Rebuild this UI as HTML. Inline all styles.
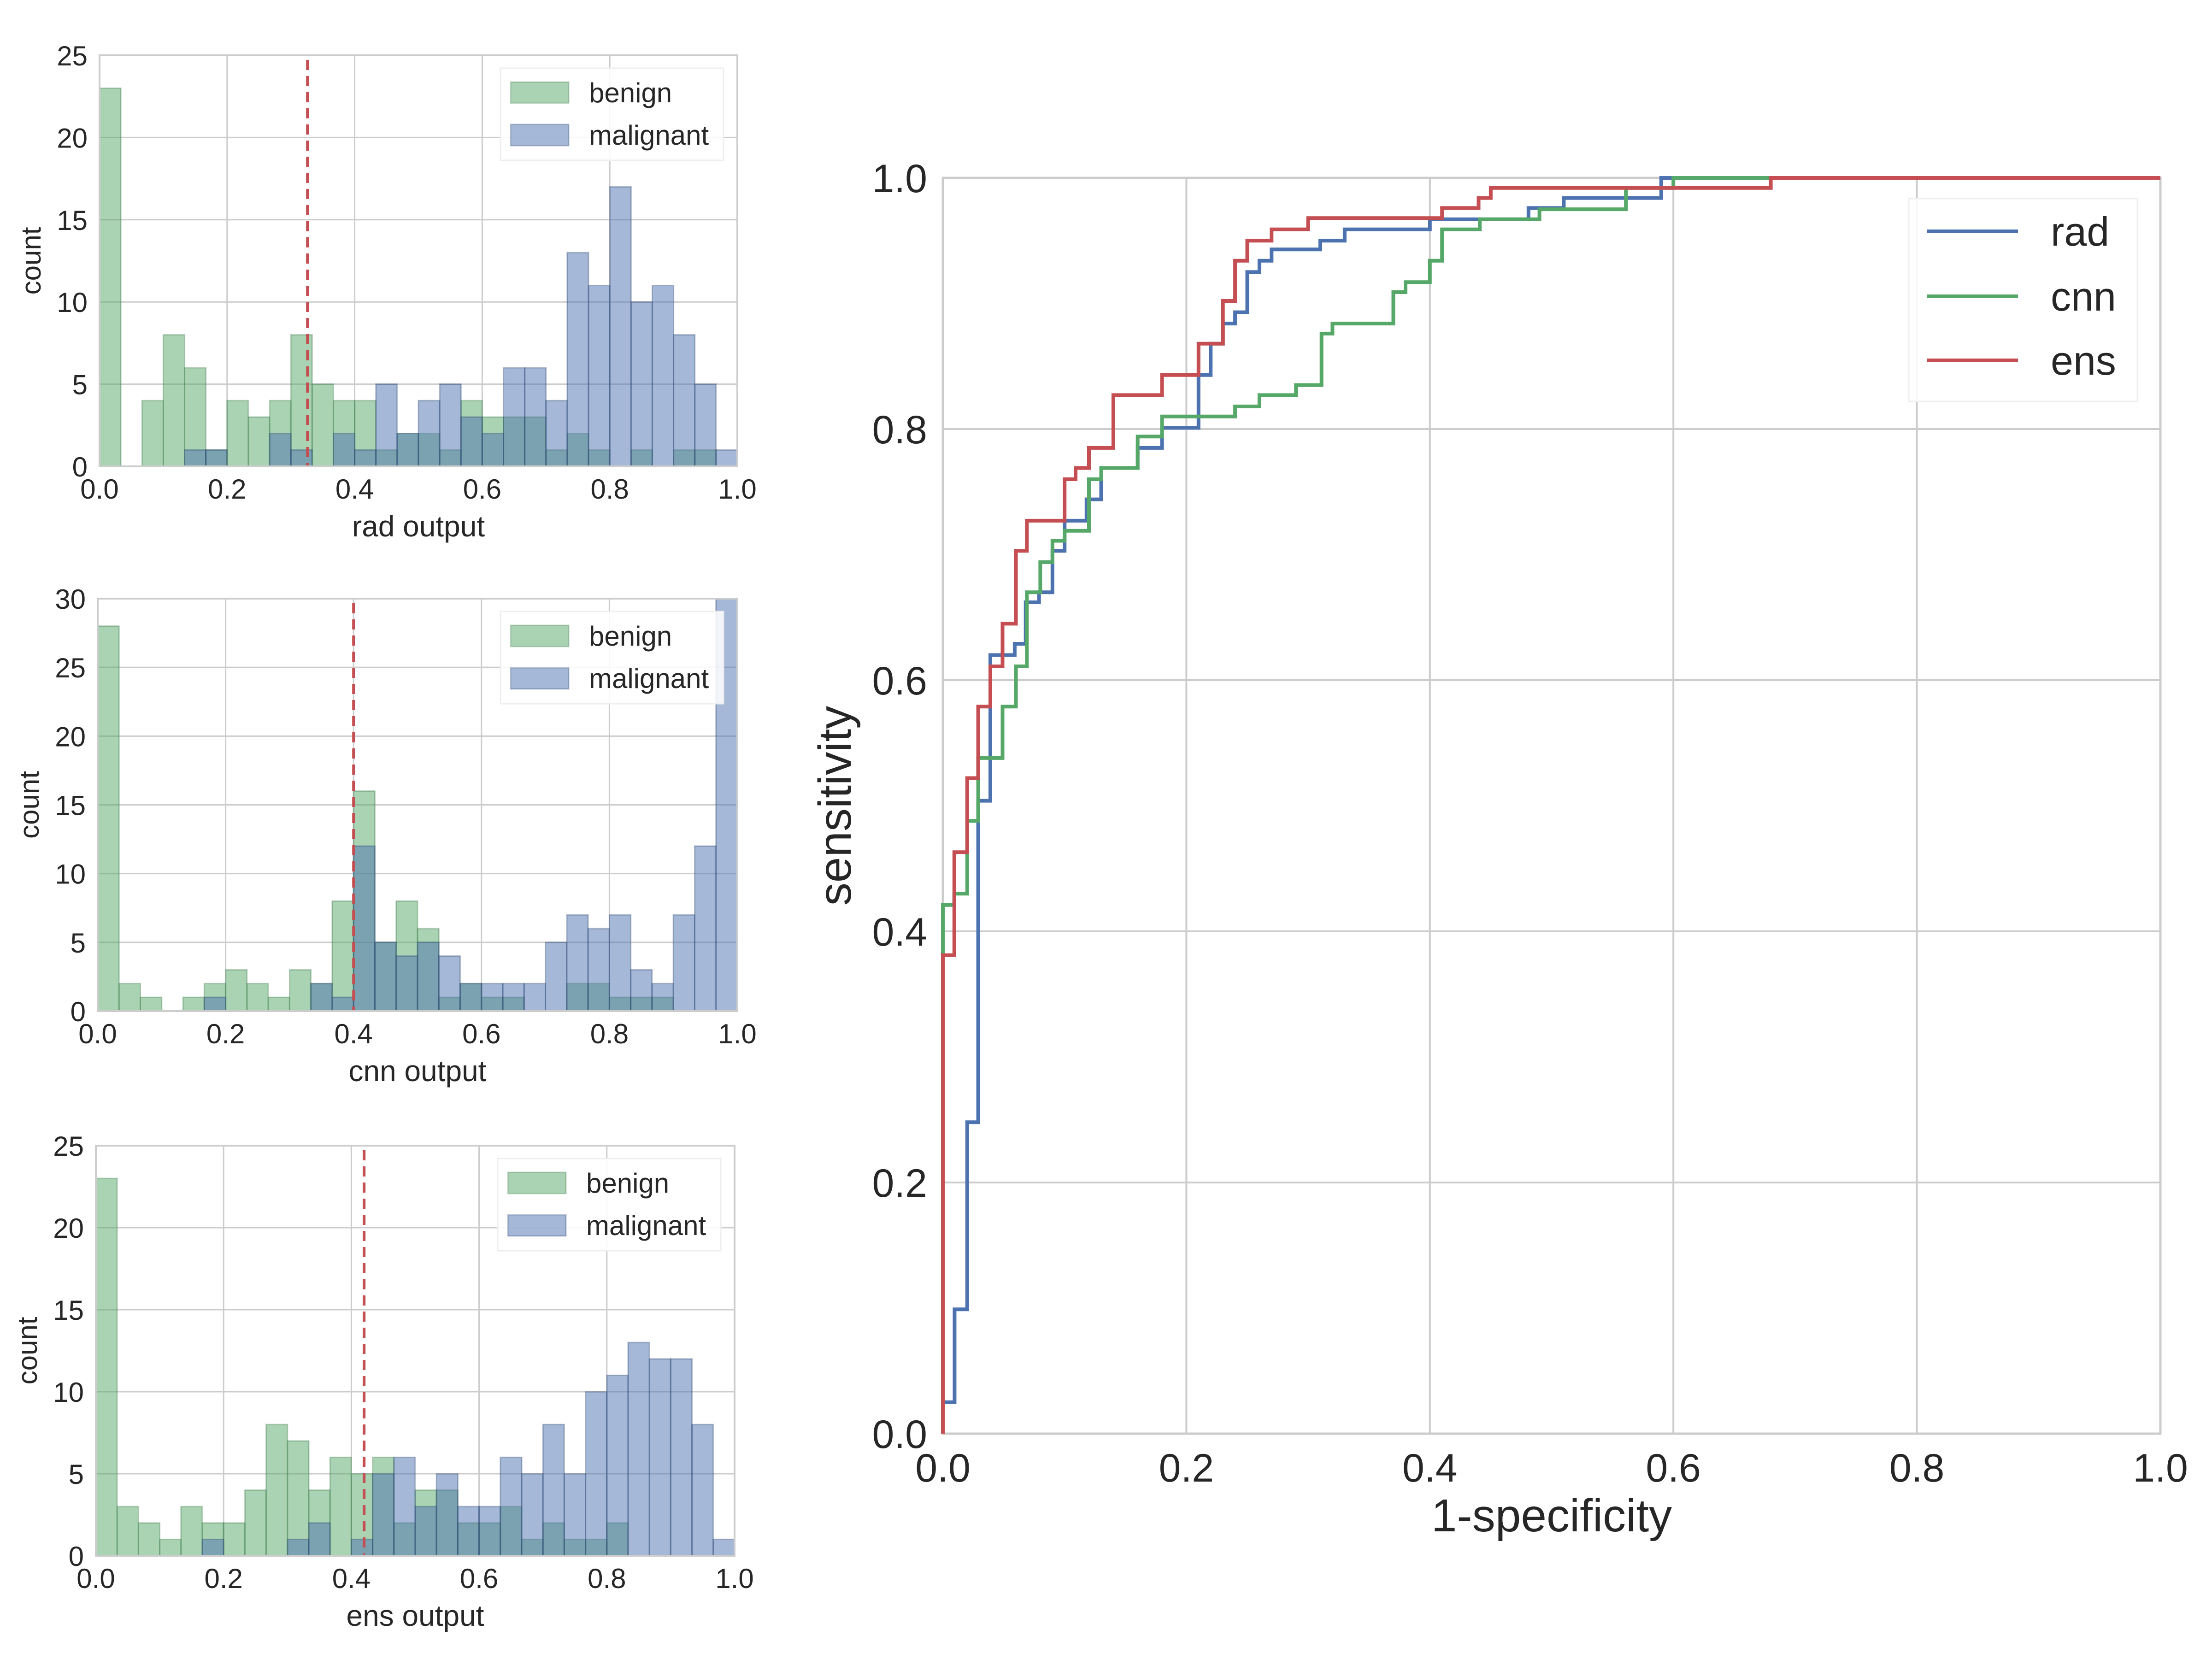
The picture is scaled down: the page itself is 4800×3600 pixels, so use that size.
<!DOCTYPE html>
<html><head><meta charset="utf-8"><style>
html,body{margin:0;padding:0;background:#fff}
svg{display:block}
text{font-family:"Liberation Sans",sans-serif;fill:#262626}
</style></head><body>
<svg id="fig" width="4800" height="3600" viewBox="0 0 4800 3600" xmlns="http://www.w3.org/2000/svg"></svg>
<script>
// ---------- histogram data (30 bins over [0,1]) ----------
const radBenign    = [23,0,4,8,6,1,4,3,4,8,5,4,4,1,2,2,1,4,3,3,3,1,2,1,0,1,0,1,1,0];
const radMalignant = [0,0,0,0,1,1,0,0,2,1,0,2,1,5,2,4,5,3,2,6,6,4,13,11,17,10,11,8,5,1];
const radThreshold = 0.326;
const cnnBenign    = [28,2,1,0,1,2,3,2,1,3,2,8,16,5,8,6,1,2,1,1,0,0,2,2,1,1,1,0,0,0];
const cnnMalignant = [0,0,0,0,0,1,0,0,0,0,2,1,12,5,4,5,4,2,2,2,2,5,7,6,7,3,2,7,12,30];
const cnnThreshold = 0.40;
const ensBenign    = [23,3,2,1,3,2,2,4,8,7,4,6,5,6,2,4,4,2,2,3,1,2,1,1,2,0,0,0,0,0];
const ensMalignant = [0,0,0,0,0,1,0,0,0,1,2,0,1,5,6,3,5,3,3,6,5,8,5,10,11,13,12,12,8,1];
const ensThreshold = 0.42;
const radYTicks = [0,5,10,15,20,25];
const cnnYTicks = [0,5,10,15,20,25,30];
const ensYTicks = [0,5,10,15,20,25];
const histXTicks = ["0.0","0.2","0.4","0.6","0.8","1.0"];

// ---------- ROC data (step points: x = 1-specificity, y = sensitivity) ----------
const radFpr = [0,0,0.0096,0.0096,0.020,0.020,0.029,0.029,0.039,0.039,0.059,0.059,0.068,0.068,0.079,0.079,0.090,0.090,0.100,0.100,0.118,0.118,0.130,0.130,0.160,0.160,0.180,0.180,0.210,0.210,0.220,0.220,0.230,0.230,0.240,0.240,0.250,0.250,0.260,0.260,0.270,0.270,0.310,0.310,0.330,0.330,0.400,0.400,0.481,0.481,0.510,0.510,0.590,0.590,1.0];
const radTpr = [0,0.025,0.025,0.099,0.099,0.248,0.248,0.504,0.504,0.620,0.620,0.629,0.629,0.662,0.662,0.670,0.670,0.703,0.703,0.727,0.727,0.744,0.744,0.769,0.769,0.785,0.785,0.801,0.801,0.843,0.843,0.868,0.868,0.884,0.884,0.893,0.893,0.925,0.925,0.934,0.934,0.943,0.943,0.950,0.950,0.959,0.959,0.967,0.967,0.976,0.976,0.984,0.984,1.0,1.0];
const cnnFpr = [0,0,0.0094,0.0094,0.020,0.020,0.029,0.029,0.049,0.049,0.060,0.060,0.069,0.069,0.080,0.080,0.090,0.090,0.100,0.100,0.120,0.120,0.130,0.130,0.160,0.160,0.180,0.180,0.240,0.240,0.260,0.260,0.290,0.290,0.311,0.311,0.320,0.320,0.370,0.370,0.380,0.380,0.400,0.400,0.410,0.410,0.441,0.441,0.490,0.490,0.561,0.561,0.600,0.600,1.0];
const cnnTpr = [0,0.421,0.421,0.430,0.430,0.488,0.488,0.538,0.538,0.579,0.579,0.611,0.611,0.670,0.670,0.694,0.694,0.711,0.711,0.719,0.719,0.760,0.760,0.769,0.769,0.794,0.794,0.810,0.810,0.818,0.818,0.827,0.827,0.835,0.835,0.876,0.876,0.884,0.884,0.909,0.909,0.917,0.917,0.934,0.934,0.959,0.959,0.967,0.967,0.975,0.975,0.992,0.992,1.0,1.0];
const ensFpr = [0,0,0.0094,0.0094,0.020,0.020,0.029,0.029,0.039,0.039,0.049,0.049,0.060,0.060,0.069,0.069,0.100,0.100,0.109,0.109,0.120,0.120,0.140,0.140,0.180,0.180,0.210,0.210,0.230,0.230,0.240,0.240,0.250,0.250,0.270,0.270,0.300,0.300,0.410,0.410,0.440,0.440,0.450,0.450,0.680,0.680,1.0];
const ensTpr = [0,0.381,0.381,0.463,0.463,0.522,0.522,0.579,0.579,0.611,0.611,0.645,0.645,0.703,0.703,0.727,0.727,0.760,0.760,0.769,0.769,0.785,0.785,0.827,0.827,0.843,0.843,0.868,0.868,0.902,0.902,0.934,0.934,0.950,0.950,0.959,0.959,0.968,0.968,0.976,0.976,0.984,0.984,0.992,0.992,1.0,1.0];
const rocTicks = ["0.0","0.2","0.4","0.6","0.8","1.0"];

const NS = "http://www.w3.org/2000/svg";
const svg = document.getElementById('fig');
function mk(tag, attrs, parent, txt){
  const e = document.createElementNS(NS, tag);
  for (const k in attrs) e.setAttribute(k, attrs[k]);
  if (txt !== undefined) e.textContent = txt;
  (parent || svg).appendChild(e);
  return e;
}
const GREEN = "#55a868", BLUE = "#4c72b0", RED = "#c44e52", GRID = "#cccccc";

function histogram(name, L, T, R, B, ymax, yTicks, benign, malignant, thr, xlabel){
  const g = mk('g', {});
  
  
  const sx = v => L + v * (R - L);
  const sy = v => B - v / ymax * (B - T);
  yTicks.forEach(t => {
    const ln = mk('line', {x1:L, x2:R, y1:sy(t), y2:sy(t), stroke:GRID, 'stroke-width':3}, g);
    
    
    const tx = mk('text', {x:L - 26, y:sy(t) + 22, 'font-size':60, 'text-anchor':'end'}, g, String(t));
    
    
  });
  histXTicks.forEach((t, i) => {
    const v = i / 5;
    const ln = mk('line', {x1:sx(v), x2:sx(v), y1:T, y2:B, stroke:GRID, 'stroke-width':3}, g);
    
    
    const tx = mk('text', {x:sx(v), y:B + 70, 'font-size':60, 'text-anchor':'middle'}, g, t);
    
    
  });
  const n = benign.length, bw = (R - L) / n;
  benign.forEach((c, i) => {
    if (!c) return;
    const r = mk('rect', {x:L + i*bw, y:sy(c), width:bw, height:B - sy(c), fill:GREEN, 'fill-opacity':0.5, stroke:'#3f7a4d', 'stroke-opacity':0.35, 'stroke-width':3}, g);
    
    
  });
  malignant.forEach((c, i) => {
    if (!c) return;
    const r = mk('rect', {x:L + i*bw, y:sy(c), width:bw, height:B - sy(c), fill:BLUE, 'fill-opacity':0.5, stroke:'#2c4470', 'stroke-opacity':0.35, 'stroke-width':3}, g);
    
    
  });
  const th = mk('line', {x1:sx(thr), x2:sx(thr), y1:T + 10, y2:B, stroke:RED, 'stroke-width':6, 'stroke-dasharray':'22 13'}, g);
  
  
  const fr = mk('rect', {x:L, y:T, width:R - L, height:B - T, fill:'none', stroke:GRID, 'stroke-width':4}, g);
  
  
  const lx = R - 514, ly = T + 28;
  const lg = mk('g', {}, g);
  
  
  mk('rect', {x:lx, y:ly, width:484, height:200, fill:'#fff', 'fill-opacity':0.85, stroke:'#eeeeee', 'stroke-width':3}, lg);
  const e1 = mk('rect', {x:lx + 22, y:ly + 30, width:126, height:46, fill:GREEN, 'fill-opacity':0.5, stroke:'#3f7a4d', 'stroke-opacity':0.3, 'stroke-width':3}, lg);
  
  
  const t1 = mk('text', {x:lx + 192, y:ly + 74, 'font-size':60}, lg, 'benign');
  
  
  const e2 = mk('rect', {x:lx + 22, y:ly + 122, width:126, height:46, fill:BLUE, 'fill-opacity':0.5, stroke:'#2c4470', 'stroke-opacity':0.3, 'stroke-width':3}, lg);
  
  
  const t2 = mk('text', {x:lx + 192, y:ly + 166, 'font-size':60}, lg, 'malignant');
  
  
  const xl = mk('text', {x:(L + R)/2, y:B + 152, 'font-size':64, 'text-anchor':'middle'}, g, xlabel);
  
  
  const yl = mk('text', {x:0, y:0, 'font-size':60, 'text-anchor':'middle', transform:`translate(${L - 128},${(T + B)/2}) rotate(-90)`}, g, 'count');
  
  
}

histogram('rad', 216, 120, 1600, 1012, 25, radYTicks, radBenign, radMalignant, radThreshold, 'rad output');
histogram('cnn', 212, 1299, 1600, 2194, 30, cnnYTicks, cnnBenign, cnnMalignant, cnnThreshold, 'cnn output');
histogram('ens', 208, 2486, 1594, 3376, 25, ensYTicks, ensBenign, ensMalignant, ensThreshold, 'ens output');

// ---------- ROC ----------
(function(){
  const L = 2046, R = 4688, T = 386, B = 3111;
  const g = mk('g', {});
  
  
  const sx = v => L + v * (R - L);
  const sy = v => B - v * (B - T);
  rocTicks.forEach((t, i) => {
    const v = i / 5;
    const gx = mk('line', {x1:sx(v), x2:sx(v), y1:T, y2:B, stroke:GRID, 'stroke-width':4}, g);
    
    
    const gy = mk('line', {x1:L, x2:R, y1:sy(v), y2:sy(v), stroke:GRID, 'stroke-width':4}, g);
    
    
    const tx = mk('text', {x:sx(v), y:B + 104, 'font-size':86, 'text-anchor':'middle'}, g, t);
    
    
    const ty = mk('text', {x:L - 34, y:sy(v) + 31, 'font-size':86, 'text-anchor':'end'}, g, t);
    
    
  });
  const fr = mk('rect', {x:L, y:T, width:R - L, height:B - T, fill:'none', stroke:GRID, 'stroke-width':5}, g);
  
  
  function curve(name, xs, ys, color){
    const d = xs.map((x, i) => (i ? 'L' : 'M') + sx(x).toFixed(1) + ',' + sy(ys[i]).toFixed(1)).join(' ');
    const p = mk('path', {d:d, fill:'none', stroke:color, 'stroke-width':8, 'stroke-linejoin':'miter'}, g);
    
    
  }
  curve('rad', radFpr, radTpr, BLUE);
  curve('cnn', cnnFpr, cnnTpr, GREEN);
  curve('ens', ensFpr, ensTpr, RED);
  const xl = mk('text', {x:(L + R)/2, y:B + 212, 'font-size':100, 'text-anchor':'middle'}, g, '1-specificity');
  
  
  const yl = mk('text', {x:0, y:0, 'font-size':100, 'text-anchor':'middle', transform:`translate(${L - 200},${(T + B)/2}) rotate(-90)`}, g, 'sensitivity');
  
  
  const lg = mk('g', {}, g);
  
  
  mk('rect', {x:4142, y:431, width:496, height:440, fill:'#fff', 'fill-opacity':0.85, stroke:'#eeeeee', 'stroke-width':3}, lg);
  [['rad', BLUE, 502], ['cnn', GREEN, 643], ['ens', RED, 782]].forEach(([lab, col, y]) => {
    const ln = mk('line', {x1:4182, x2:4379, y1:y, y2:y, stroke:col, 'stroke-width':8}, lg);
    
    
    const t = mk('text', {x:4450, y:y + 31, 'font-size':88}, lg, lab);
    
    
  });
})();
</script>
</body></html>
